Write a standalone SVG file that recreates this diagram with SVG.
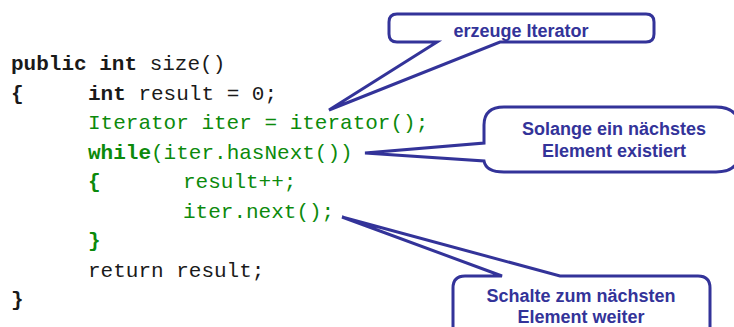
<svg xmlns="http://www.w3.org/2000/svg" width="734" height="327" viewBox="0 0 734 327">
<style>
.code{font-family:"Liberation Mono","Courier New",monospace;font-size:21px;fill:#1a1a1a}
.g{fill:#0c8a0c}
.b{font-weight:bold}
.callout{fill:#fff;stroke:#333399;stroke-width:3;stroke-linejoin:miter}
.lbl{font-family:"Liberation Sans",Arial,sans-serif;font-size:18px;font-weight:bold;fill:#333399;text-anchor:middle}
</style>
<rect width="734" height="327" fill="#fff"/>
<g id="code">
<text class="code" x="11" y="70"><tspan class="b">public int</tspan> size()</text>
<text class="code b" x="11" y="99.5">{</text>
<text class="code" x="88" y="99.5"><tspan class="b">int</tspan> result = 0;</text>
<text class="code g" x="88" y="129">Iterator iter = iterator();</text>
<text class="code g" x="88" y="158.5"><tspan class="b">while</tspan>(iter.hasNext())</text>
<text class="code g b" x="88" y="188">{</text>
<text class="code g" x="183" y="188">result++;</text>
<text class="code g" x="183" y="217.5">iter.next();</text>
<text class="code g b" x="88" y="247">}</text>
<text class="code" x="88" y="276.5">return result;</text>
<text class="code b" x="11" y="306">}</text>
</g>
<g id="connectors"></g>
<g id="callout1">
<path class="callout" d="M397,14 H646 Q654,14 654,22 V34 Q654,42 646,42 H500 L329,110 L437,42 H397 Q389,42 389,34 V22 Q389,14 397,14 Z"/>
<text class="lbl" x="521" y="37">erzeuge Iterator</text>
</g>
<g id="callout2">
<path class="callout" d="M504,107 H716 Q740,107 740,130 V150 Q740,172 716,172 H504 Q486,172 484,161 L365,153 L484,143 V125 Q484,107 504,107 Z"/>
<text class="lbl" x="614" y="135">Solange ein nächstes</text>
<text class="lbl" x="614" y="157">Element existiert</text>
</g>
<g id="callout3">
<path class="callout" d="M465,276 H502 L342,217 L560,276 H698 Q710,276 710,288 V340 H453 V288 Q453,276 465,276 Z"/>
<text class="lbl" x="581" y="302">Schalte zum nächsten</text>
<text class="lbl" x="581" y="323">Element weiter</text>
</g>
</svg>
